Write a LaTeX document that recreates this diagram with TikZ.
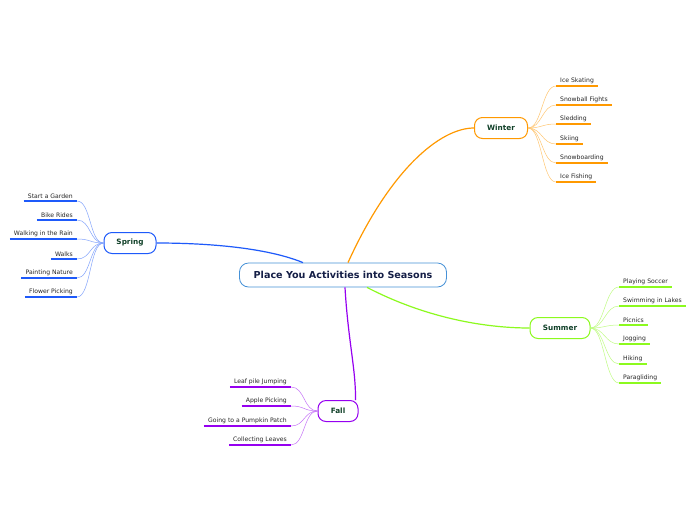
\documentclass[tikz,border=0pt]{standalone}
\usepackage{fontspec}
\setmainfont{DejaVu Sans}
\definecolor{winterorange}{RGB}{255,153,0}
\definecolor{springblue}{RGB}{30,90,250}
\definecolor{summergreen}{RGB}{140,250,30}
\definecolor{fallpurple}{RGB}{150,0,240}
\definecolor{topicblue}{RGB}{70,145,215}
\definecolor{topicnavy}{RGB}{20,30,70}
\definecolor{seasongreen}{RGB}{16,64,40}

\begin{document}
\begin{tikzpicture}[x=1pt, y=-1pt,
    topic/.style={draw=topicblue, line width=0.8pt, rounded corners=9pt, fill=white,
      minimum width=207pt, minimum height=24pt, text=topicnavy,
      font=\bfseries\fontsize{9.6}{11}\selectfont},
    season/.style={draw=#1, line width=1pt, rounded corners=8pt, fill=white,
      minimum height=21pt, text=seasongreen, font=\bfseries\fontsize{7.3}{8}\selectfont},
    leaf/.style={inner xsep=4pt, inner ysep=2.5pt, text=black!85,
      font=\fontsize{6.1}{7}\selectfont},
    bough/.style={draw=#1, line width=1.2pt},
    twig/.style={draw=#1!55, line width=0.5pt},
    underline/.style={draw=#1, line width=1.6pt}]
  \useasboundingbox[fill=white] (0,0) rectangle (696,520);

  % the topic and the four seasons
  \node[topic] (topic) at (343,275) {Place You Activities into Seasons};
  \node[season=winterorange, minimum width=53pt] (winter) at (501,128) {Winter};
  \node[season=springblue, minimum width=52pt] (spring) at (130,243) {Spring};
  \node[season=summergreen, minimum width=60pt] (summer) at (560,328) {Summer};
  \node[season=fallpurple, minimum width=40pt] (fall) at (338,411) {Fall};

  % boughs from the topic
  \draw[bough=winterorange] ([xshift=5pt]topic.north) .. controls (390,170) and (440,128) .. (winter.west);
  \draw[bough=springblue] ([xshift=-40pt]topic.north) .. controls (260,245) and (190,243) .. (spring.east);
  \draw[bough=summergreen] ([xshift=24pt]topic.south) .. controls (430,320) and (490,328) .. (summer.west);
  \draw[bough=fallpurple] ([xshift=2pt]topic.south) .. controls (348,340) and (356,370) .. ([xshift=-3pt]fall.north east);

  % winter
  \foreach \txt/\y [count=\i] in {Ice Skating/86, Snowball Fights/105, Sledding/124,
      Skiing/144, Snowboarding/163, Ice Fishing/182} {
    \node[leaf, anchor=south west] (w\i) at (556,\y) {\txt};
    \draw[twig=winterorange] (winter.east) .. controls +(14,0) and +(-14,0) .. (w\i.south west);
    \draw[underline=winterorange] (w\i.south west) -- (w\i.south east);
  }

  % spring
  \foreach \txt/\y [count=\i] in {Start a Garden/201, Bike Rides/220, Walking in the Rain/239,
      Walks/259, Painting Nature/278, Flower Picking/297} {
    \node[leaf, anchor=south east] (s\i) at (77,\y) {\txt};
    \draw[twig=springblue] (spring.west) .. controls +(-14,0) and +(14,0) .. (s\i.south east);
    \draw[underline=springblue] (s\i.south west) -- (s\i.south east);
  }

  % summer
  \foreach \txt/\y [count=\i] in {Playing Soccer/287, Swimming in Lakes/306, Picnics/325,
      Jogging/344, Hiking/364, Paragliding/383} {
    \node[leaf, anchor=south west] (u\i) at (619,\y) {\txt};
    \draw[twig=summergreen] (summer.east) .. controls +(14,0) and +(-14,0) .. (u\i.south west);
    \draw[underline=summergreen] (u\i.south west) -- (u\i.south east);
  }

  % fall
  \foreach \txt/\y [count=\i] in {Leaf pile Jumping/387, Apple Picking/406,
      Going to a Pumpkin Patch/426, Collecting Leaves/445} {
    \node[leaf, anchor=south east] (f\i) at (291,\y) {\txt};
    \draw[twig=fallpurple] (fall.west) .. controls +(-14,0) and +(14,0) .. (f\i.south east);
    \draw[underline=fallpurple] (f\i.south west) -- (f\i.south east);
  }
\end{tikzpicture}
\end{document}
